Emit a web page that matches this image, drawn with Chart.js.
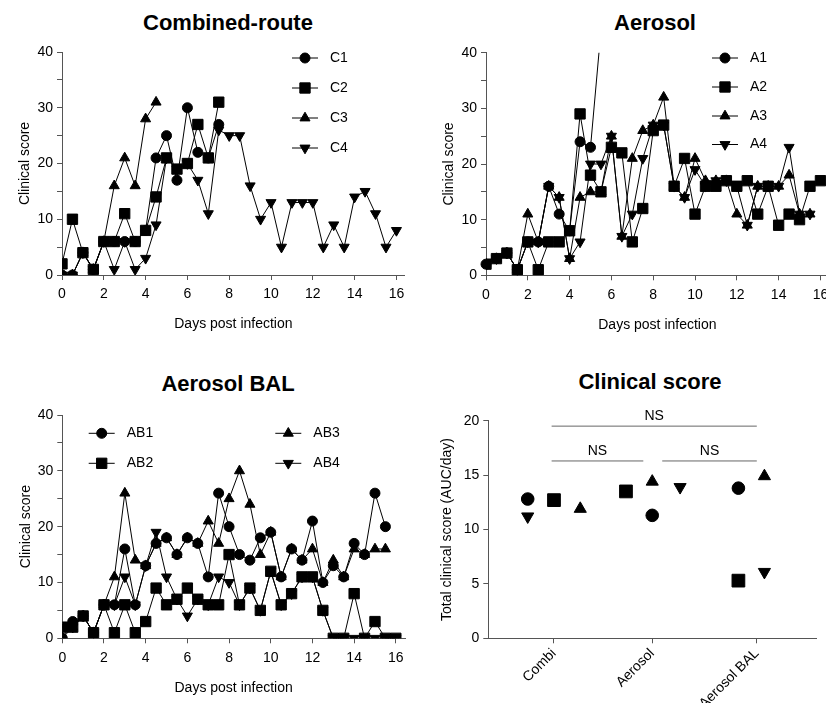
<!DOCTYPE html>
<html>
<head>
<meta charset="utf-8">
<script src="https://cdn.jsdelivr.net/npm/chart.js@4.4.1/dist/chart.umd.min.js"></script>
<style>
  html, body { margin: 0; padding: 0; width: 826px; height: 703px; overflow: hidden; background: #fff; }
  canvas { position: absolute; }
  .ttl { position: absolute; width: 300px; text-align: center; line-height: 26px;
         font: bold 22px "Liberation Sans", Arial, sans-serif; color: #000; }
</style>
</head>
<body>
<div class="ttl" style="left:78px;top:10px">Combined-route</div>
<div class="ttl" style="left:505px;top:10px">Aerosol</div>
<div class="ttl" style="left:78px;top:371px">Aerosol BAL</div>
<div class="ttl" style="left:500px;top:369px">Clinical score</div>

<canvas id="combi" width="420" height="340" style="left:0;top:0"></canvas>
<canvas id="aerosol" width="430" height="340" style="left:420px;top:0"></canvas>
<canvas id="bal" width="420" height="343" style="left:0;top:360px"></canvas>
<canvas id="auc" width="430" height="360" style="left:420px;top:360px"></canvas>

<script>
// jours post infection (une mesure toutes les 12 h)
const days = [0, 0.5, 1, 1.5, 2, 2.5, 3, 3.5, 4, 4.5, 5, 5.5, 6, 6.5, 7, 7.5, 8,
              8.5, 9, 9.5, 10, 10.5, 11, 11.5, 12, 12.5, 13, 13.5, 14, 14.5, 15, 15.5, 16];

// Combined-route
const C1 = [0, 0, 4, 1, 6, 6, 6, 6, 8, 21, 25, 17, 30, 22, 21, 27];
const C2 = [2, 10, 4, 1, 6, 6, 11, 6, 8, 14, 21, 19, 20, 27, 21, 31];
const C3 = [0, 0, 4, 1, 6, 16, 21, 16, 28, 31];
const C4 = [0, 0, 4, 1, 6, 1, 6, 1, 3, 9, 21, 19, 20, 17, 11, 26, 25, 25, 16, 10, 13, 5, 13, 13, 13, 5, 9, 5, 14, 15, 11, 5, 8];

// Aerosol
const A1 = [2, 3, 4, 1, 6, 6, 16, 11, 8, 24, 23, 44];
const A2 = [2, 3, 4, 1, 6, 1, 6, 6, 8, 29, 18, 15, 23, 22, 6, 12, 26, 27, 16, 21, 11, 16, 16, 17, 16, 17, 11, 16, 9, 11, 10, 16, 17];
const A3 = [2, 3, 4, 1, 11, 6, 16, 14, 3, 14, 15, 15, 25, 7, 21, 26, 27, 32, 16, 14, 21, 17, 17, 17, 11, 9, 16, 16, 16, 18, 11, 11];
const A4 = [2, 3, 4, 1, 6, 6, 16, 14, 3, 6, 20, 20, 25, 7, 11, 21, 27, 27, 16, 14, 19, 16, 17, 17, 16, 9, 16, 16, 16, 23, 11, 11];

// Aerosol BAL
const AB1 = [0, 3, 4, 1, 6, 6, 16, 6, 13, 17, 18, 15, 18, 17, 11, 26, 20, 15, 14, 18, 19, 11, 16, 14, 21, 10, 13, 11, 17, 15, 26, 20];
const AB2 = [2, 2, 4, 1, 6, 1, 6, 1, 3, 9, 6, 7, 9, 7, 6, 6, 15, 6, 9, 5, 12, 6, 8, 11, 11, 5, 0, 0, 8, 0, 3, 0, 0];
const AB3 = [0, 2, 4, 1, 6, 11, 26, 14, 13, 17, 18, 15, 18, 17, 21, 17, 25, 30, 24, 15, 19, 11, 16, 14, 16, 10, 14, 11, 16, 15, 16, 16];
const AB4 = [2, 2, 4, 1, 6, 6, 11, 6, 13, 19, 11, 7, 4, 7, 6, 11, 10, 6, 9, 5, 12, 6, 8, 11, 11, 5, 0, 0, 0, 0, 0, 0, 0];

// Score total (AUC/jour) par groupe
const groups = ['Combi', 'Aerosol', 'Aerosol BAL'];
const groupX = [2.5, 6.24, 10.22];
const circleX = [1.5, 6.24, 9.52],  circleAUC = [12.8, 11.3, 13.8];
const squareX = [2.5, 5.24, 9.52],  squareAUC = [12.7, 13.5, 5.3];
const upX     = [3.5, 6.24, 10.51], upAUC     = [11.9, 14.4, 14.9];
const downX   = [1.5, 7.3, 10.51],  downAUC   = [11.2, 13.9, 6.1];
const nsBars = [
  { from: 2.41, to: 10.22, y: 19.5 },
  { from: 2.41, to: 5.9, y: 16.3 },
  { from: 6.62, to: 10.22, y: 16.3 },
];

Chart.defaults.font.family = '"Liberation Sans", Arial, sans-serif';
Chart.defaults.font.size = 14;
Chart.defaults.color = '#000';

const AXIS = '#555';
const markers = [
  { pointStyle: 'circle', radius: 5, rotation: 0 },
  { pointStyle: 'rect', radius: 7.3, rotation: 0 },
  { pointStyle: 'triangle', radius: 5.8, rotation: 0 },
  { pointStyle: 'triangle', radius: 5.8, rotation: 180 },
];

function series(label, vals, k, extra) {
  const pts = [];
  vals.forEach((v, i) => { if (v !== null) pts.push({ x: days[i], y: v }); });
  return Object.assign({
    label: label,
    data: pts,
    borderColor: '#000',
    backgroundColor: '#000',
    borderWidth: 1,
    tension: 0,
    pointStyle: markers[k].pointStyle,
    pointRadius: markers[k].radius,
    pointRotation: markers[k].rotation,
    pointBorderWidth: 1,
    pointBackgroundColor: '#000',
    pointBorderColor: '#000',
  }, extra || {});
}

// petite légende dessinée à la main (ligne + symbole + texte)
const seriesLegend = {
  id: 'seriesLegend',
  afterDraw(chart, args, opts) {
    if (!opts || !opts.items) return;
    const ctx = chart.ctx;
    ctx.save();
    chart.data.datasets.forEach((ds, i) => {
      const it = opts.items[i];
      if (!it) return;
      ctx.strokeStyle = '#000';
      ctx.lineWidth = 1;
      ctx.beginPath();
      ctx.moveTo(it.x - 13, it.y);
      ctx.lineTo(it.x + 13, it.y);
      ctx.stroke();
      ctx.fillStyle = '#000';
      Chart.helpers.drawPoint(ctx, {
        pointStyle: ds.pointStyle, radius: ds.pointRadius,
        rotation: ds.pointRotation, borderWidth: 1
      }, it.x, it.y);
      ctx.font = '14px "Liberation Sans", Arial, sans-serif';
      ctx.textBaseline = 'middle';
      ctx.textAlign = 'left';
      ctx.fillText(ds.label, it.x + 25, it.y);
    });
    ctx.restore();
  }
};
Chart.register(seriesLegend);

function timeOptions(p) {
  return {
    responsive: false,
    animation: false,
    events: [],
    layout: { padding: { left: p.L, top: p.T, right: p.R, bottom: p.B } },
    plugins: {
      legend: { display: false },
      tooltip: { enabled: false },
      seriesLegend: { items: p.legend },
    },
    scales: {
      x: {
        type: 'linear', min: 0, max: p.xmax,
        afterFit: s => { s.height = p.H; },
        ticks: { stepSize: 2, includeBounds: false, padding: 6, maxRotation: 0, autoSkip: false },
        grid: { drawOnChartArea: false, tickLength: 5, color: AXIS },
        border: { color: AXIS },
        title: { display: true, text: 'Days post infection', padding: 0 },
      },
      y: {
        min: 0, max: 40,
        afterFit: s => { s.width = p.W; },
        ticks: { stepSize: 5, padding: 4, callback: v => (v % 10 === 0 ? v : '') },
        grid: { drawOnChartArea: false, tickLength: 5, color: AXIS },
        border: { color: AXIS },
        title: { display: true, text: 'Clinical score', padding: 0 },
      },
    },
  };
}

new Chart(document.getElementById('combi'), {
  type: 'line',
  data: { datasets: [series('C1', C1, 0), series('C2', C2, 1), series('C3', C3, 2), series('C4', C4, 3)] },
  options: timeOptions({
    L: 17, T: 52, R: 15.2, B: 7.6, W: 45, H: 57.4, xmax: 16.4,
    legend: [{ x: 305, y: 58 }, { x: 305, y: 88 }, { x: 305, y: 118 }, { x: 305, y: 148 }],
  }),
});

new Chart(document.getElementById('aerosol'), {
  type: 'line',
  data: { datasets: [
    series('A1', A1, 0, { clip: { left: 10, right: 10, top: 0, bottom: 10 } }),
    series('A2', A2, 1), series('A3', A3, 2), series('A4', A4, 3)
  ] },
  options: timeOptions({
    L: 20.6, T: 52.7, R: 21.2, B: 6.6, W: 45.4, H: 58.1, xmax: 16.4,
    legend: [{ x: 305, y: 58 }, { x: 305, y: 87 }, { x: 305, y: 116 }, { x: 305, y: 144.5 }],
  }),
});

new Chart(document.getElementById('bal'), {
  type: 'line',
  data: { datasets: [series('AB1', AB1, 0), series('AB2', AB2, 1), series('AB3', AB3, 2), series('AB4', AB4, 3)] },
  options: timeOptions({
    L: 17.4, T: 55, R: 15, B: 6.6, W: 44.9, H: 58.1, xmax: 16.44,
    legend: [{ x: 101.7, y: 73.3 }, { x: 101.7, y: 103.3 }, { x: 288.3, y: 73.3 }, { x: 288.3, y: 103.3 }],
  }),
});

// barres NS entre les groupes
const nsPlugin = {
  id: 'nsBars',
  afterDraw(chart) {
    const { ctx, scales: { x, y } } = chart;
    ctx.save();
    nsBars.forEach(b => {
      const x0 = x.getPixelForValue(b.from), x1 = x.getPixelForValue(b.to);
      const py = y.getPixelForValue(b.y);
      ctx.strokeStyle = '#666';
      ctx.lineWidth = 1;
      ctx.beginPath();
      ctx.moveTo(x0, py);
      ctx.lineTo(x1, py);
      ctx.stroke();
      ctx.fillStyle = '#000';
      ctx.font = '14px "Liberation Sans", Arial, sans-serif';
      ctx.textAlign = 'center';
      ctx.textBaseline = 'middle';
      ctx.fillText('NS', (x0 + x1) / 2, py - 10);
    });
    ctx.restore();
  }
};

function aucSet(xs, vals, style, r, rot) {
  return {
    data: xs.map((x, i) => ({ x: x, y: vals[i] })),
    pointStyle: style, pointRadius: r, pointRotation: rot,
    backgroundColor: '#000', borderColor: '#000', pointBorderWidth: 1, showLine: false,
  };
}

new Chart(document.getElementById('auc'), {
  type: 'scatter',
  data: { datasets: [
    aucSet(circleX, circleAUC, 'circle', 6.3, 0),
    aucSet(squareX, squareAUC, 'rect', 9, 0),
    aucSet(upX, upAUC, 'triangle', 7, 0),
    aucSet(downX, downAUC, 'triangle', 7, 180),
  ] },
  options: {
    responsive: false,
    animation: false,
    events: [],
    layout: { padding: { left: 19.1, top: 60.7, right: 33.3, bottom: 0 } },
    plugins: { legend: { display: false }, tooltip: { enabled: false } },
    scales: {
      x: {
        type: 'linear', min: 0, max: 12.5,
        afterFit: s => { s.height = 81.7; },
        afterBuildTicks: s => { s.ticks = groupX.map(v => ({ value: v })); },
        ticks: { autoSkip: false, minRotation: 45, maxRotation: 45, padding: 2,
                 callback: (v, i) => groups[i] },
        grid: { drawOnChartArea: false, tickLength: 5, color: AXIS },
        border: { color: AXIS },
      },
      y: {
        min: 0, max: 20,
        afterFit: s => { s.width = 49.2; },
        ticks: { stepSize: 5, padding: 4 },
        grid: { drawOnChartArea: false, tickLength: 5, color: AXIS },
        border: { color: AXIS },
        title: { display: true, text: 'Total clinical score (AUC/day)', padding: 0 },
      },
    },
  },
  plugins: [nsPlugin],
});
</script>
</body>
</html>
